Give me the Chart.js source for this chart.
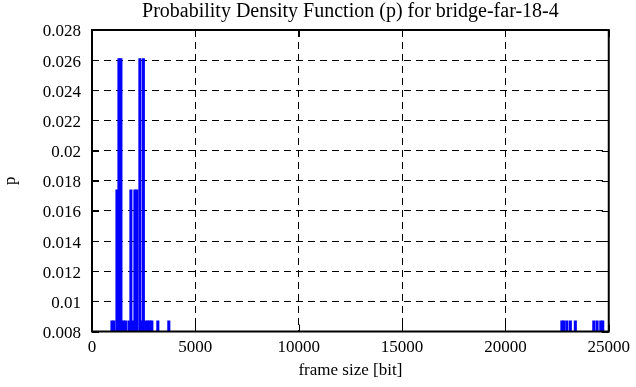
<!DOCTYPE html>
<html><head><meta charset="utf-8">
<script src="https://cdn.jsdelivr.net/npm/chart.js@4.4.0/dist/chart.umd.min.js"></script>
<style>html,body{margin:0;padding:0;background:#fff;} #wrap{width:636px;height:387px;}</style>
</head><body><div id="wrap"><canvas id="c" width="636" height="387"></canvas></div>
<script>
const frameSizes = [965, 1062, 1207, 1303, 1400, 1520, 1617, 1786, 1882, 1979, 2075, 2172, 2317, 2403, 2486, 2606, 2703, 2799, 2896, 3185, 3716,
  22732, 22828, 22973, 23142, 23383, 24276, 24435, 24614, 24710];
const probabilities = [0.0087, 0.0087, 0.0174, 0.0261, 0.0261, 0.0087, 0.0087, 0.0087, 0.0174, 0.0087, 0.0174, 0.0174, 0.0261, 0.0087, 0.0261, 0.0087, 0.0087, 0.0087, 0.0087, 0.0087, 0.0087,
  0.0087, 0.0087, 0.0087, 0.0087, 0.0087, 0.0087, 0.0087, 0.0087, 0.0087];
const xTickValues = [0, 5000, 10000, 15000, 20000, 25000];
const xTickLabels = ['0', '5000', '10000', '15000', '20000', '25000'];
const yTickValues = [0.008, 0.010, 0.012, 0.014, 0.016, 0.018, 0.020, 0.022, 0.024, 0.026, 0.028];
const yTickLabels = ['0.008', '0.01', '0.012', '0.014', '0.016', '0.018', '0.02', '0.022', '0.024', '0.026', '0.028'];
const titleText = 'Probability Density Function (p) for bridge-far-18-4';
const xTitle = 'frame size [bit]';
const yTitle = 'p';

const FONT = '"Liberation Serif", "Times New Roman", serif';

const frameBox = {
  id: 'frameBox',
  afterDraw(chart) {
    const {ctx, chartArea: a, scales} = chart;
    ctx.save();
    ctx.strokeStyle = '#000';
    ctx.lineWidth = 1;
    ctx.setLineDash([]);
    const L = 7;
    ctx.beginPath();
    xTickValues.forEach(v => {
      const px = Math.round(scales.x.getPixelForValue(v)) + 0.5;
      ctx.moveTo(px, a.bottom); ctx.lineTo(px, a.bottom - L);
      ctx.moveTo(px, a.top); ctx.lineTo(px, a.top + L);
    });
    yTickValues.forEach(v => {
      const py = Math.round(scales.y.getPixelForValue(v)) + 0.5;
      ctx.moveTo(a.left, py); ctx.lineTo(a.left + L, py);
      ctx.moveTo(a.right, py); ctx.lineTo(a.right - L, py);
    });
    ctx.stroke();
    ctx.lineWidth = 2;
    ctx.strokeRect(a.left, a.top, a.right - a.left, a.bottom - a.top);
    ctx.restore();
  }
};

new Chart(document.getElementById('c'), {
  type: 'bar',
  data: {
    datasets: [{
      data: frameSizes.map((x, i) => ({x: x, y: probabilities[i]})),
      backgroundColor: '#0000ff',
      borderWidth: 0,
      barThickness: 2.4,
      grouped: false
    }]
  },
  options: {
    responsive: false,
    animation: false,
    devicePixelRatio: 1,
    layout: {padding: {left: 0, right: 26, top: 0, bottom: 0}},
    plugins: {
      legend: {display: false},
      tooltip: {enabled: false},
      title: {
        display: true,
        fullSize: false,
        text: titleText,
        color: '#000',
        font: {family: FONT, size: 20, weight: 'normal'},
        padding: {top: 0, bottom: 6}
      }
    },
    scales: {
      x: {
        type: 'linear',
        min: 0, max: 25000,
        offset: false,
        afterBuildTicks: s => { s.ticks = xTickValues.map(v => ({value: v})); },
        afterFit: s => { s.height = 55.5; },
        ticks: {
          color: '#000',
          font: {family: FONT, size: 17},
          padding: 6,
          maxRotation: 0,
          autoSkip: false,
          callback: (v, i) => xTickLabels[i]
        },
        grid: {color: '#000', lineWidth: 1, drawTicks: false, offset: false},
        border: {display: false, dash: [7, 5]},
        title: {display: true, text: xTitle, color: '#000', font: {family: FONT, size: 17}, padding: {top: 0, bottom: 6}}
      },
      y: {
        type: 'linear',
        min: 0.008, max: 0.028,
        afterBuildTicks: s => { s.ticks = yTickValues.map(v => ({value: v})); },
        afterFit: s => { s.width = 92; },
        ticks: {
          color: '#000',
          font: {family: FONT, size: 17},
          padding: 11,
          autoSkip: false,
          labelOffset: 2,
          callback: (v, i) => yTickLabels[i]
        },
        grid: {color: '#000', lineWidth: 1, drawTicks: false},
        border: {display: false, dash: [7, 5]},
        title: {display: true, text: yTitle, color: '#000', font: {family: FONT, size: 17}, padding: {top: 0, bottom: 0}}
      }
    }
  },
  plugins: [frameBox]
});
</script></body></html>
